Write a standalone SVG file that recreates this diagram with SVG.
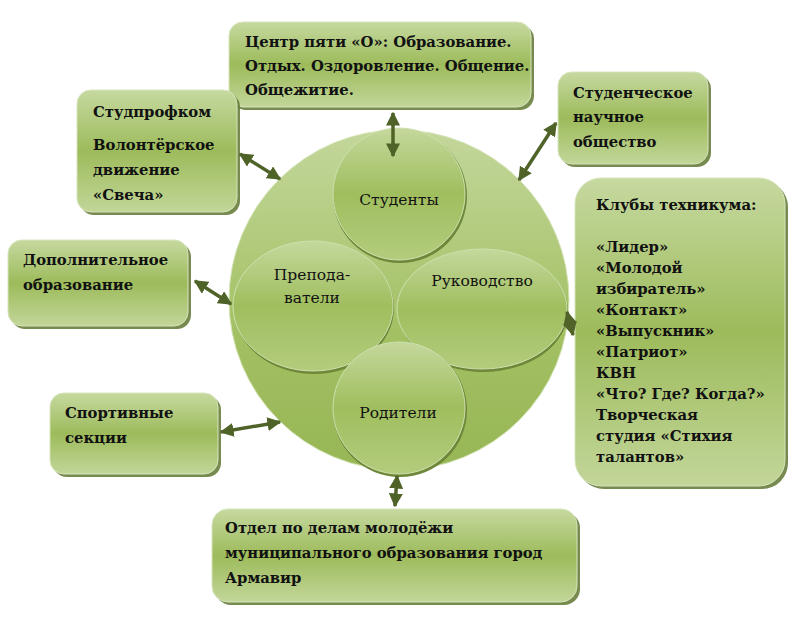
<svg xmlns="http://www.w3.org/2000/svg" width="792" height="625" viewBox="0 0 792 625">
<style>
.box{fill:url(#boxg);stroke:#d6e4bb;stroke-width:1}
.sh{fill:#5f7530;opacity:0.85}
.bt{font-weight:bold;font-size:14.8px;fill:#111}
.it{font-size:15.5px;fill:#111;text-anchor:middle}
.inner{fill:url(#ing);stroke:#cfe0ae;stroke-width:1}
.ish{fill:#6e8738}
.ar{stroke:#4f6228;stroke-width:3.5;fill:none;marker-start:url(#ah);marker-end:url(#ah)}
</style>
<defs>
<linearGradient id="boxg" x1="0" y1="0" x2="0" y2="1">
<stop offset="0" stop-color="#c6d9a0"/>
<stop offset="0.5" stop-color="#9dbb5b"/>
<stop offset="1" stop-color="#c2d699"/>
</linearGradient>
<linearGradient id="big" x1="0" y1="0" x2="0" y2="1">
<stop offset="0" stop-color="#c3d79b"/>
<stop offset="0.6" stop-color="#a3c063"/>
<stop offset="1" stop-color="#97b655"/>
</linearGradient>
<linearGradient id="ing" x1="0" y1="0" x2="0" y2="1">
<stop offset="0" stop-color="#c4d89c"/>
<stop offset="0.5" stop-color="#a0be5e"/>
<stop offset="1" stop-color="#b3cc7d"/>
</linearGradient>
<marker id="ah" viewBox="0 0 10 10" refX="9" refY="5" markerWidth="4" markerHeight="4" orient="auto-start-reverse" markerUnits="strokeWidth">
<path d="M0,0 L10,5 L0,10 z" fill="#4f6228"/>
</marker>
</defs>
<rect width="792" height="625" fill="#fff"/>

<g font-family="DejaVu Serif, Liberation Serif, serif">
<g id="center">
<circle cx="399" cy="300" r="170" fill="url(#big)" stroke="#d2e2b3" stroke-width="1"/>
<g id="teachers">
<ellipse class="ish" cx="314" cy="308" rx="80" ry="66"/>
<ellipse class="inner" cx="313" cy="306" rx="80" ry="65"/>
<text class="it" x="312" y="280">Препода-</text>
<text class="it" x="312" y="303">ватели</text>
</g>
<g id="management">
<ellipse class="ish" cx="483" cy="311" rx="85" ry="61"/>
<ellipse class="inner" cx="482" cy="309" rx="85" ry="60"/>
<text class="it" x="482" y="286">Руководство</text>
</g>
<g id="students">
<circle class="ish" cx="400" cy="196" r="67"/>
<circle class="inner" cx="399" cy="194" r="66"/>
<text class="it" x="399" y="205">Студенты</text>
</g>
<g id="parents">
<circle class="ish" cx="400" cy="410" r="67"/>
<circle class="inner" cx="399" cy="408" r="66"/>
<text class="it" x="398" y="418">Родители</text>
</g>
</g>

<g id="center5">
<rect class="sh" x="232" y="25" width="302" height="85" rx="14"/>
<rect class="box" x="229" y="22" width="302" height="85" rx="14"/>
<text class="bt" x="245" y="47">Центр пяти «О»: Образование.</text>
<text class="bt" x="245" y="71">Отдых. Оздоровление. Общение.</text>
<text class="bt" x="245" y="95">Общежитие.</text>
</g>

<g id="studprof">
<rect class="sh" x="80" y="93" width="160" height="122" rx="14"/>
<rect class="box" x="77" y="90" width="160" height="122" rx="14"/>
<text class="bt" x="93" y="117">Студпрофком</text>
<text class="bt" x="93" y="150">Волонтёрское</text>
<text class="bt" x="93" y="175">движение</text>
<text class="bt" x="93" y="200">«Свеча»</text>
</g>

<g id="science">
<rect class="sh" x="561" y="75" width="150" height="92" rx="14"/>
<rect class="box" x="558" y="72" width="150" height="92" rx="14"/>
<text class="bt" x="573" y="98">Студенческое</text>
<text class="bt" x="573" y="122">научное</text>
<text class="bt" x="573" y="147">общество</text>
</g>

<g id="clubs">
<rect class="sh" x="578" y="181" width="210" height="308" rx="26"/>
<rect class="box" x="575" y="178" width="210" height="308" rx="26"/>
<text class="bt" x="596" y="210">Клубы техникума:</text>
<text class="bt" x="596" y="252">«Лидер»</text>
<text class="bt" x="596" y="273">«Молодой</text>
<text class="bt" x="596" y="294">избиратель»</text>
<text class="bt" x="596" y="315">«Контакт»</text>
<text class="bt" x="596" y="336">«Выпускник»</text>
<text class="bt" x="596" y="357">«Патриот»</text>
<text class="bt" x="596" y="378">КВН</text>
<text class="bt" x="596" y="399">«Что? Где? Когда?»</text>
<text class="bt" x="596" y="420">Творческая</text>
<text class="bt" x="596" y="441">студия «Стихия</text>
<text class="bt" x="596" y="462">талантов»</text>
</g>

<g id="extra">
<rect class="sh" x="11" y="243" width="180" height="86" rx="14"/>
<rect class="box" x="8" y="240" width="180" height="86" rx="14"/>
<text class="bt" x="23" y="265">Дополнительное</text>
<text class="bt" x="23" y="290">образование</text>
</g>

<g id="sport">
<rect class="sh" x="53" y="396" width="168" height="81" rx="14"/>
<rect class="box" x="50" y="393" width="168" height="81" rx="14"/>
<text class="bt" x="65" y="418">Спортивные</text>
<text class="bt" x="65" y="443">секции</text>
</g>

<g id="youth">
<rect class="sh" x="215" y="512" width="365" height="93" rx="16"/>
<rect class="box" x="212" y="509" width="365" height="93" rx="16"/>
<text class="bt" x="225" y="533">Отдел по делам молодёжи</text>
<text class="bt" x="225" y="558">муниципального образования город</text>
<text class="bt" x="225" y="583">Армавир</text>
</g>
</g>

<g id="connectors">
<line class="ar" x1="393" y1="113" x2="393" y2="156"/>
<line class="ar" x1="240" y1="154" x2="280" y2="179"/>
<line class="ar" x1="556" y1="123" x2="519" y2="180"/>
<line class="ar" x1="195" y1="281" x2="231" y2="304"/>
<line class="ar" x1="221" y1="432" x2="280" y2="422"/>
<line class="ar" x1="397" y1="476" x2="395" y2="506"/>
<line class="ar" x1="567" y1="312" x2="573" y2="335"/>
</g>
</svg>
